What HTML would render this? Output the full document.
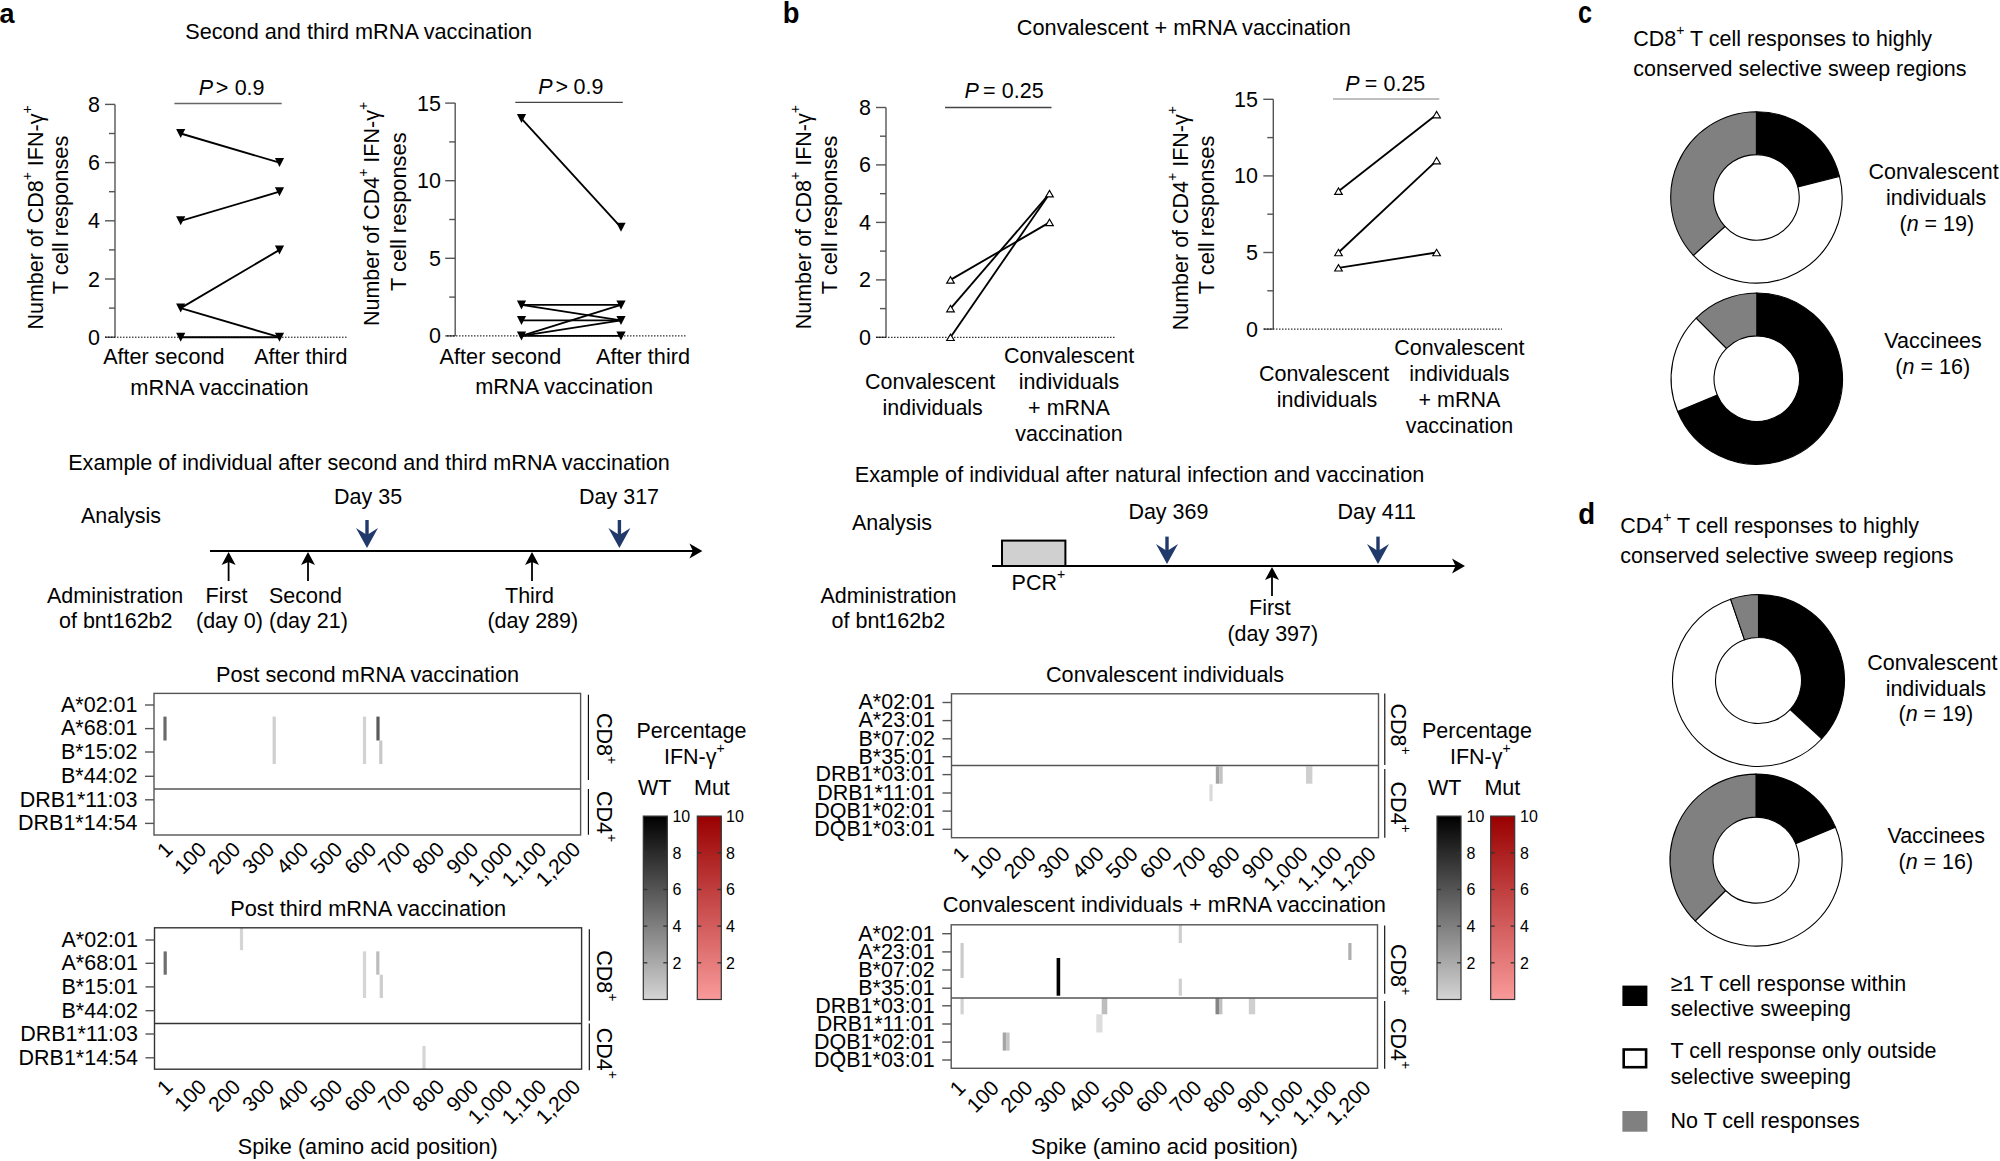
<!DOCTYPE html>
<html><head><meta charset="utf-8"><style>
html,body{margin:0;padding:0;background:#fff;width:2000px;height:1161px;overflow:hidden;}
svg{display:block;font-family:"Liberation Sans",sans-serif;}
</style></head><body>
<svg width="2000" height="1161" viewBox="0 0 2000 1161">
<defs>
<linearGradient id="gWT" x1="0" y1="0" x2="0" y2="1"><stop offset="0" stop-color="#000"/><stop offset="1" stop-color="#d4d4d4"/></linearGradient>
<linearGradient id="gMut" x1="0" y1="0" x2="0" y2="1"><stop offset="0" stop-color="#990000"/><stop offset="1" stop-color="#f99a9a"/></linearGradient>
</defs>
<rect width="2000" height="1161" fill="#fff"/>
<text transform="translate(-0.5,23) scale(0.9,0.93)" font-size="30" font-weight="bold">a</text>
<text transform="translate(782.8,23.4) scale(0.91,0.99)" font-size="30" font-weight="bold">b</text>
<text transform="translate(1578,23) scale(0.84,1.02)" font-size="30" font-weight="bold">c</text>
<text transform="translate(1578.2,524.2) scale(0.92,0.99)" font-size="30" font-weight="bold">d</text>
<text transform="translate(185.2,39.3) scale(1,1.04)" font-size="21.5" text-anchor="start"  textLength="346.9" lengthAdjust="spacingAndGlyphs">Second and third mRNA vaccination</text>
<line x1="115" y1="104.4" x2="115" y2="337.2" stroke="#555" stroke-width="1.4"/>
<line x1="105" y1="337.2" x2="115" y2="337.2" stroke="#555" stroke-width="1.4"/>
<line x1="105" y1="279.0" x2="115" y2="279.0" stroke="#555" stroke-width="1.4"/>
<line x1="105" y1="220.8" x2="115" y2="220.8" stroke="#555" stroke-width="1.4"/>
<line x1="105" y1="162.6" x2="115" y2="162.6" stroke="#555" stroke-width="1.4"/>
<line x1="105" y1="104.4" x2="115" y2="104.4" stroke="#555" stroke-width="1.4"/>
<line x1="109" y1="308.1" x2="115" y2="308.1" stroke="#555" stroke-width="1.4"/>
<line x1="109" y1="249.9" x2="115" y2="249.9" stroke="#555" stroke-width="1.4"/>
<line x1="109" y1="191.7" x2="115" y2="191.7" stroke="#555" stroke-width="1.4"/>
<line x1="109" y1="133.5" x2="115" y2="133.5" stroke="#555" stroke-width="1.4"/>
<text transform="translate(100.0,344.7) scale(1,1.04)" font-size="21.5" text-anchor="end" >0</text>
<text transform="translate(100.0,286.5) scale(1,1.04)" font-size="21.5" text-anchor="end" >2</text>
<text transform="translate(100.0,228.3) scale(1,1.04)" font-size="21.5" text-anchor="end" >4</text>
<text transform="translate(100.0,170.1) scale(1,1.04)" font-size="21.5" text-anchor="end" >6</text>
<text transform="translate(100.0,111.9) scale(1,1.04)" font-size="21.5" text-anchor="end" >8</text>
<line x1="105" y1="337.2" x2="347" y2="337.2" stroke="#000" stroke-width="1" stroke-dasharray="1.5,1.5"/>
<line x1="180.7" y1="133.5" x2="279.5" y2="162.6" stroke="#000" stroke-width="1.85"/>
<line x1="180.7" y1="220.8" x2="279.5" y2="191.7" stroke="#000" stroke-width="1.85"/>
<line x1="180.7" y1="308.1" x2="279.5" y2="249.9" stroke="#000" stroke-width="1.85"/>
<line x1="180.7" y1="308.1" x2="279.5" y2="337.2" stroke="#000" stroke-width="1.85"/>
<line x1="180.7" y1="337.2" x2="279.5" y2="337.2" stroke="#000" stroke-width="1.85"/>
<path d="M176.1,216.3L185.3,216.3L180.7,225.3Z" fill="#000"/>
<path d="M176.1,303.6L185.3,303.6L180.7,312.6Z" fill="#000"/>
<path d="M176.1,129.0L185.3,129.0L180.7,138.0Z" fill="#000"/>
<path d="M274.9,245.4L284.1,245.4L279.5,254.4Z" fill="#000"/>
<path d="M274.9,158.1L284.1,158.1L279.5,167.1Z" fill="#000"/>
<path d="M176.1,332.7L185.3,332.7L180.7,341.7Z" fill="#000"/>
<path d="M274.9,187.2L284.1,187.2L279.5,196.2Z" fill="#000"/>
<path d="M274.9,332.7L284.1,332.7L279.5,341.7Z" fill="#000"/>
<text transform="translate(42.6,217.5) rotate(-90) scale(1,1.04)" font-size="21.5" text-anchor="middle">Number of CD8<tspan font-size="14" dy="-10.5">+</tspan><tspan dy="10.5">​</tspan> IFN-γ<tspan font-size="14" dy="-10.5">+</tspan><tspan dy="10.5">​</tspan></text>
<text transform="translate(68.4,214.9) rotate(-90) scale(1,1.04)" font-size="21.5" text-anchor="middle" textLength="158.5" lengthAdjust="spacingAndGlyphs">T cell responses</text>
<text transform="translate(198.83,95) scale(1,1.05)" font-size="21.5" font-style="italic">P</text>
<text transform="translate(215.65,95) scale(1,1.05)" font-size="21.5">&gt;</text>
<text transform="translate(234.66,95) scale(1,1.05)" font-size="21.5">0.9</text>
<line x1="174.4" y1="103.5" x2="281.7" y2="103.5" stroke="#666" stroke-width="1.5"/>
<text transform="translate(103.2,364.0) scale(1,1.04)" font-size="21.5" text-anchor="start"  textLength="121.2" lengthAdjust="spacingAndGlyphs">After second</text>
<text transform="translate(254.2,364.0) scale(1,1.04)" font-size="21.5" text-anchor="start"  textLength="93.2" lengthAdjust="spacingAndGlyphs">After third</text>
<text transform="translate(130.2,395.0) scale(1,1.04)" font-size="21.5" text-anchor="start"  textLength="178.4" lengthAdjust="spacingAndGlyphs">mRNA vaccination</text>
<line x1="455.2" y1="103.1" x2="455.2" y2="335.9" stroke="#555" stroke-width="1.4"/>
<line x1="445.2" y1="335.9" x2="455.2" y2="335.9" stroke="#555" stroke-width="1.4"/>
<line x1="445.2" y1="258.3" x2="455.2" y2="258.3" stroke="#555" stroke-width="1.4"/>
<line x1="445.2" y1="180.7" x2="455.2" y2="180.7" stroke="#555" stroke-width="1.4"/>
<line x1="445.2" y1="103.1" x2="455.2" y2="103.1" stroke="#555" stroke-width="1.4"/>
<line x1="449.2" y1="297.1" x2="455.2" y2="297.1" stroke="#555" stroke-width="1.4"/>
<line x1="449.2" y1="219.5" x2="455.2" y2="219.5" stroke="#555" stroke-width="1.4"/>
<line x1="449.2" y1="141.9" x2="455.2" y2="141.9" stroke="#555" stroke-width="1.4"/>
<text transform="translate(441.0,343.4) scale(1,1.04)" font-size="21.5" text-anchor="end" >0</text>
<text transform="translate(441.0,265.8) scale(1,1.04)" font-size="21.5" text-anchor="end" >5</text>
<text transform="translate(441.0,188.2) scale(1,1.04)" font-size="21.5" text-anchor="end" >10</text>
<text transform="translate(441.0,110.6) scale(1,1.04)" font-size="21.5" text-anchor="end" >15</text>
<line x1="447" y1="335.9" x2="687" y2="335.9" stroke="#000" stroke-width="1" stroke-dasharray="1.5,1.5"/>
<line x1="521.5" y1="118.6" x2="621" y2="227.3" stroke="#000" stroke-width="1.85"/>
<line x1="521.5" y1="304.9" x2="621" y2="304.9" stroke="#000" stroke-width="1.85"/>
<line x1="521.5" y1="304.9" x2="621" y2="320.4" stroke="#000" stroke-width="1.85"/>
<line x1="521.5" y1="320.4" x2="621" y2="320.4" stroke="#000" stroke-width="1.85"/>
<line x1="521.5" y1="335.9" x2="621" y2="304.9" stroke="#000" stroke-width="1.85"/>
<line x1="521.5" y1="335.9" x2="621" y2="320.4" stroke="#000" stroke-width="1.85"/>
<line x1="521.5" y1="335.9" x2="621" y2="335.9" stroke="#000" stroke-width="1.85"/>
<path d="M516.9,331.4L526.1,331.4L521.5,340.4Z" fill="#000"/>
<path d="M616.4,222.8L625.6,222.8L621.0,231.8Z" fill="#000"/>
<path d="M516.9,300.4L526.1,300.4L521.5,309.4Z" fill="#000"/>
<path d="M616.4,331.4L625.6,331.4L621.0,340.4Z" fill="#000"/>
<path d="M516.9,114.1L526.1,114.1L521.5,123.1Z" fill="#000"/>
<path d="M616.4,300.4L625.6,300.4L621.0,309.4Z" fill="#000"/>
<path d="M516.9,315.9L526.1,315.9L521.5,324.9Z" fill="#000"/>
<path d="M616.4,315.9L625.6,315.9L621.0,324.9Z" fill="#000"/>
<text transform="translate(378.5,214) rotate(-90) scale(1,1.04)" font-size="21.5" text-anchor="middle">Number of CD4<tspan font-size="14" dy="-10.5">+</tspan><tspan dy="10.5">​</tspan> IFN-γ<tspan font-size="14" dy="-10.5">+</tspan><tspan dy="10.5">​</tspan></text>
<text transform="translate(405.5,211.7) rotate(-90) scale(1,1.04)" font-size="21.5" text-anchor="middle" textLength="158.5" lengthAdjust="spacingAndGlyphs">T cell responses</text>
<text transform="translate(538.33,93.9) scale(1,1.05)" font-size="21.5" font-style="italic">P</text>
<text transform="translate(555.45,93.9) scale(1,1.05)" font-size="21.5">&gt;</text>
<text transform="translate(573.56,93.9) scale(1,1.05)" font-size="21.5">0.9</text>
<line x1="515.3" y1="102.4" x2="622.8" y2="102.4" stroke="#444" stroke-width="1.3"/>
<text transform="translate(439.6,363.5) scale(1,1.04)" font-size="21.5" text-anchor="start"  textLength="121.6" lengthAdjust="spacingAndGlyphs">After second</text>
<text transform="translate(596.0,363.5) scale(1,1.04)" font-size="21.5" text-anchor="start"  textLength="94.0" lengthAdjust="spacingAndGlyphs">After third</text>
<text transform="translate(475.2,394.2) scale(1,1.04)" font-size="21.5" text-anchor="start"  textLength="177.8" lengthAdjust="spacingAndGlyphs">mRNA vaccination</text>
<text transform="translate(1016.8,35.0) scale(1,1.04)" font-size="21.5" text-anchor="start"  textLength="334.0" lengthAdjust="spacingAndGlyphs">Convalescent + mRNA vaccination</text>
<line x1="886" y1="107.5" x2="886" y2="337.3" stroke="#555" stroke-width="1.4"/>
<line x1="876" y1="337.3" x2="886" y2="337.3" stroke="#555" stroke-width="1.4"/>
<line x1="876" y1="279.9" x2="886" y2="279.9" stroke="#555" stroke-width="1.4"/>
<line x1="876" y1="222.4" x2="886" y2="222.4" stroke="#555" stroke-width="1.4"/>
<line x1="876" y1="164.9" x2="886" y2="164.9" stroke="#555" stroke-width="1.4"/>
<line x1="876" y1="107.5" x2="886" y2="107.5" stroke="#555" stroke-width="1.4"/>
<line x1="880" y1="308.6" x2="886" y2="308.6" stroke="#555" stroke-width="1.4"/>
<line x1="880" y1="251.1" x2="886" y2="251.1" stroke="#555" stroke-width="1.4"/>
<line x1="880" y1="193.7" x2="886" y2="193.7" stroke="#555" stroke-width="1.4"/>
<line x1="880" y1="136.2" x2="886" y2="136.2" stroke="#555" stroke-width="1.4"/>
<text transform="translate(871.0,344.8) scale(1,1.04)" font-size="21.5" text-anchor="end" >0</text>
<text transform="translate(871.0,287.4) scale(1,1.04)" font-size="21.5" text-anchor="end" >2</text>
<text transform="translate(871.0,229.9) scale(1,1.04)" font-size="21.5" text-anchor="end" >4</text>
<text transform="translate(871.0,172.4) scale(1,1.04)" font-size="21.5" text-anchor="end" >6</text>
<text transform="translate(871.0,115.0) scale(1,1.04)" font-size="21.5" text-anchor="end" >8</text>
<line x1="876" y1="337.3" x2="1115" y2="337.3" stroke="#000" stroke-width="1" stroke-dasharray="1.5,1.5"/>
<line x1="950.5" y1="279.9" x2="1049.5" y2="222.4" stroke="#000" stroke-width="1.85"/>
<line x1="950.5" y1="308.6" x2="1049.5" y2="193.7" stroke="#000" stroke-width="1.85"/>
<line x1="950.5" y1="337.3" x2="1049.5" y2="193.7" stroke="#000" stroke-width="1.85"/>
<path d="M1045.7,225.6L1053.3,225.6L1049.5,219.2Z" fill="#fff" stroke="#000" stroke-width="1.15"/>
<path d="M946.7,340.5L954.3,340.5L950.5,334.1Z" fill="#fff" stroke="#000" stroke-width="1.15"/>
<path d="M946.7,283.1L954.3,283.1L950.5,276.7Z" fill="#fff" stroke="#000" stroke-width="1.15"/>
<path d="M1045.7,196.9L1053.3,196.9L1049.5,190.5Z" fill="#fff" stroke="#000" stroke-width="1.15"/>
<path d="M946.7,311.8L954.3,311.8L950.5,305.4Z" fill="#fff" stroke="#000" stroke-width="1.15"/>
<text transform="translate(811,217.2) rotate(-90) scale(1,1.04)" font-size="21.5" text-anchor="middle">Number of CD8<tspan font-size="14" dy="-10.5">+</tspan><tspan dy="10.5">​</tspan> IFN-γ<tspan font-size="14" dy="-10.5">+</tspan><tspan dy="10.5">​</tspan></text>
<text transform="translate(836.8,214.9) rotate(-90) scale(1,1.04)" font-size="21.5" text-anchor="middle" textLength="158.5" lengthAdjust="spacingAndGlyphs">T cell responses</text>
<text transform="translate(964.53,98.2) scale(1,1.05)" font-size="21.5" font-style="italic">P</text>
<text transform="translate(983.05,98.2) scale(1,1.05)" font-size="21.5">=</text>
<text transform="translate(1001.86,98.2) scale(1,1.05)" font-size="21.5">0.25</text>
<line x1="945" y1="107.5" x2="1051.5" y2="107.5" stroke="#444" stroke-width="1.3"/>
<text transform="translate(930.1,389.0) scale(1,1.04)" font-size="21.5" text-anchor="middle" >Convalescent</text>
<text transform="translate(932.7,415.0) scale(1,1.04)" font-size="21.5" text-anchor="middle" >individuals</text>
<text transform="translate(1069.0,363.0) scale(1,1.04)" font-size="21.5" text-anchor="middle" >Convalescent</text>
<text transform="translate(1069.0,389.0) scale(1,1.04)" font-size="21.5" text-anchor="middle" >individuals</text>
<text transform="translate(1069.0,415.0) scale(1,1.04)" font-size="21.5" text-anchor="middle" >+ mRNA</text>
<text transform="translate(1069.0,441.0) scale(1,1.04)" font-size="21.5" text-anchor="middle" >vaccination</text>
<line x1="1273.3" y1="99.3" x2="1273.3" y2="329.1" stroke="#555" stroke-width="1.4"/>
<line x1="1263.3" y1="329.1" x2="1273.3" y2="329.1" stroke="#555" stroke-width="1.4"/>
<line x1="1263.3" y1="252.5" x2="1273.3" y2="252.5" stroke="#555" stroke-width="1.4"/>
<line x1="1263.3" y1="175.9" x2="1273.3" y2="175.9" stroke="#555" stroke-width="1.4"/>
<line x1="1263.3" y1="99.3" x2="1273.3" y2="99.3" stroke="#555" stroke-width="1.4"/>
<line x1="1267.3" y1="290.8" x2="1273.3" y2="290.8" stroke="#555" stroke-width="1.4"/>
<line x1="1267.3" y1="214.2" x2="1273.3" y2="214.2" stroke="#555" stroke-width="1.4"/>
<line x1="1267.3" y1="137.6" x2="1273.3" y2="137.6" stroke="#555" stroke-width="1.4"/>
<text transform="translate(1258.0,336.6) scale(1,1.04)" font-size="21.5" text-anchor="end" >0</text>
<text transform="translate(1258.0,260.0) scale(1,1.04)" font-size="21.5" text-anchor="end" >5</text>
<text transform="translate(1258.0,183.4) scale(1,1.04)" font-size="21.5" text-anchor="end" >10</text>
<text transform="translate(1258.0,106.8) scale(1,1.04)" font-size="21.5" text-anchor="end" >15</text>
<line x1="1264" y1="329.1" x2="1502" y2="329.1" stroke="#000" stroke-width="1" stroke-dasharray="1.5,1.5"/>
<line x1="1338.5" y1="191.2" x2="1436.6" y2="114.6" stroke="#000" stroke-width="1.85"/>
<line x1="1338.5" y1="252.5" x2="1436.6" y2="160.6" stroke="#000" stroke-width="1.85"/>
<line x1="1338.5" y1="267.8" x2="1436.6" y2="252.5" stroke="#000" stroke-width="1.85"/>
<path d="M1432.8,255.7L1440.4,255.7L1436.6,249.3Z" fill="#fff" stroke="#000" stroke-width="1.15"/>
<path d="M1334.7,194.4L1342.3,194.4L1338.5,188.0Z" fill="#fff" stroke="#000" stroke-width="1.15"/>
<path d="M1432.8,163.8L1440.4,163.8L1436.6,157.4Z" fill="#fff" stroke="#000" stroke-width="1.15"/>
<path d="M1432.8,117.8L1440.4,117.8L1436.6,111.4Z" fill="#fff" stroke="#000" stroke-width="1.15"/>
<path d="M1334.7,255.7L1342.3,255.7L1338.5,249.3Z" fill="#fff" stroke="#000" stroke-width="1.15"/>
<path d="M1334.7,271.0L1342.3,271.0L1338.5,264.6Z" fill="#fff" stroke="#000" stroke-width="1.15"/>
<text transform="translate(1187.9,218.2) rotate(-90) scale(1,1.04)" font-size="21.5" text-anchor="middle">Number of CD4<tspan font-size="14" dy="-10.5">+</tspan><tspan dy="10.5">​</tspan> IFN-γ<tspan font-size="14" dy="-10.5">+</tspan><tspan dy="10.5">​</tspan></text>
<text transform="translate(1213.7,214.9) rotate(-90) scale(1,1.04)" font-size="21.5" text-anchor="middle" textLength="158.5" lengthAdjust="spacingAndGlyphs">T cell responses</text>
<text transform="translate(1345.33,90.55) scale(1,1.05)" font-size="21.5" font-style="italic">P</text>
<text transform="translate(1364.75,90.55) scale(1,1.05)" font-size="21.5">=</text>
<text transform="translate(1383.46,90.55) scale(1,1.05)" font-size="21.5">0.25</text>
<line x1="1333" y1="99" x2="1439.3" y2="99" stroke="#aaa" stroke-width="1.7"/>
<text transform="translate(1324.0,380.7) scale(1,1.04)" font-size="21.5" text-anchor="middle" >Convalescent</text>
<text transform="translate(1327.0,406.6) scale(1,1.04)" font-size="21.5" text-anchor="middle" >individuals</text>
<text transform="translate(1459.4,355.0) scale(1,1.04)" font-size="21.5" text-anchor="middle" >Convalescent</text>
<text transform="translate(1459.4,381.0) scale(1,1.04)" font-size="21.5" text-anchor="middle" >individuals</text>
<text transform="translate(1459.4,407.0) scale(1,1.04)" font-size="21.5" text-anchor="middle" >+ mRNA</text>
<text transform="translate(1459.4,433.0) scale(1,1.04)" font-size="21.5" text-anchor="middle" >vaccination</text>
<text transform="translate(1633.3,45.5) scale(1,1.04)" font-size="21.5" text-anchor="start" >CD8<tspan font-size="14" dy="-10.5">+</tspan><tspan dy="10.5">​</tspan> T cell responses to highly</text>
<text transform="translate(1633.3,76.4) scale(1,1.04)" font-size="21.5" text-anchor="start" >conserved selective sweep regions</text>
<path d="M1756.40,111.70A85.7,85.7 0 0 1 1839.48,176.36L1797.89,186.89A42.8,42.8 0 0 0 1756.40,154.60Z" fill="#000" stroke="#000" stroke-width="1.1"/>
<path d="M1839.48,176.36A85.7,85.7 0 0 1 1693.35,255.44L1724.91,226.39A42.8,42.8 0 0 0 1797.89,186.89Z" fill="#fff" stroke="#000" stroke-width="1.1"/>
<path d="M1693.35,255.44A85.7,85.7 0 0 1 1756.40,111.70L1756.40,154.60A42.8,42.8 0 0 0 1724.91,226.39Z" fill="#808080" stroke="#000" stroke-width="1.1"/>
<path d="M1756.80,293.00A85.7,85.7 0 1 1 1677.62,411.50L1717.26,395.08A42.8,42.8 0 1 0 1756.80,335.90Z" fill="#000" stroke="#000" stroke-width="1.1"/>
<path d="M1677.62,411.50A85.7,85.7 0 0 1 1696.20,318.10L1726.54,348.44A42.8,42.8 0 0 0 1717.26,395.08Z" fill="#fff" stroke="#000" stroke-width="1.1"/>
<path d="M1696.20,318.10A85.7,85.7 0 0 1 1756.80,293.00L1756.80,335.90A42.8,42.8 0 0 0 1726.54,348.44Z" fill="#808080" stroke="#000" stroke-width="1.1"/>
<text transform="translate(1933.5,179.0) scale(1,1.04)" font-size="21.5" text-anchor="middle" >Convalescent</text>
<text transform="translate(1936.2,204.9) scale(1,1.04)" font-size="21.5" text-anchor="middle" >individuals</text>
<text transform="translate(1936.8,230.8) scale(1,1.04)" font-size="21.5" text-anchor="middle" >(<tspan font-style="italic">n</tspan> = 19)</text>
<text transform="translate(1933.0,347.7) scale(1,1.04)" font-size="21.5" text-anchor="middle" >Vaccinees</text>
<text transform="translate(1932.7,373.5) scale(1,1.04)" font-size="21.5" text-anchor="middle" >(<tspan font-style="italic">n</tspan> = 16)</text>
<text transform="translate(1620.3,533.2) scale(1,1.04)" font-size="21.5" text-anchor="start" >CD4<tspan font-size="14" dy="-10.5">+</tspan><tspan dy="10.5">​</tspan> T cell responses to highly</text>
<text transform="translate(1620.3,563.4) scale(1,1.04)" font-size="21.5" text-anchor="start" >conserved selective sweep regions</text>
<path d="M1758.50,594.50A86,86 0 0 1 1821.77,738.75L1790.14,709.62A43,43 0 0 0 1758.50,637.50Z" fill="#000" stroke="#000" stroke-width="1.1"/>
<path d="M1821.77,738.75A86,86 0 1 1 1730.58,599.16L1744.54,639.83A43,43 0 1 0 1790.14,709.62Z" fill="#fff" stroke="#000" stroke-width="1.1"/>
<path d="M1730.58,599.16A86,86 0 0 1 1758.50,594.50L1758.50,637.50A43,43 0 0 0 1744.54,639.83Z" fill="#808080" stroke="#000" stroke-width="1.1"/>
<path d="M1756.00,774.10A86,86 0 0 1 1835.45,827.19L1795.73,843.64A43,43 0 0 0 1756.00,817.10Z" fill="#000" stroke="#000" stroke-width="1.1"/>
<path d="M1835.45,827.19A86,86 0 0 1 1695.19,920.91L1725.59,890.51A43,43 0 0 0 1795.73,843.64Z" fill="#fff" stroke="#000" stroke-width="1.1"/>
<path d="M1695.19,920.91A86,86 0 0 1 1756.00,774.10L1756.00,817.10A43,43 0 0 0 1725.59,890.51Z" fill="#808080" stroke="#000" stroke-width="1.1"/>
<text transform="translate(1932.3,669.7) scale(1,1.04)" font-size="21.5" text-anchor="middle" >Convalescent</text>
<text transform="translate(1935.8,695.6) scale(1,1.04)" font-size="21.5" text-anchor="middle" >individuals</text>
<text transform="translate(1935.8,721.4) scale(1,1.04)" font-size="21.5" text-anchor="middle" >(<tspan font-style="italic">n</tspan> = 19)</text>
<text transform="translate(1936.2,843.3) scale(1,1.04)" font-size="21.5" text-anchor="middle" >Vaccinees</text>
<text transform="translate(1935.8,869.0) scale(1,1.04)" font-size="21.5" text-anchor="middle" >(<tspan font-style="italic">n</tspan> = 16)</text>
<rect x="1622.4" y="985.6" width="25" height="20.4" fill="#000"/>
<rect x="1623.7" y="1049.5" width="22.4" height="17.7" fill="#fff" stroke="#000" stroke-width="2.6"/>
<rect x="1622.4" y="1111" width="25" height="20.7" fill="#808080"/>
<text transform="translate(1670.6,991.3) scale(1,1.04)" font-size="21.5" text-anchor="start" >≥1 T cell response within</text>
<text transform="translate(1670.6,1016.3) scale(1,1.04)" font-size="21.5" text-anchor="start" >selective sweeping</text>
<text transform="translate(1670.6,1058.1) scale(1,1.04)" font-size="21.5" text-anchor="start" >T cell response only outside</text>
<text transform="translate(1670.6,1083.5) scale(1,1.04)" font-size="21.5" text-anchor="start" >selective sweeping</text>
<text transform="translate(1670.6,1128.2) scale(1,1.04)" font-size="21.5" text-anchor="start" >No T cell responses</text>
<text transform="translate(68.2,470.0) scale(1,1.04)" font-size="21.5" text-anchor="start"  textLength="601.6" lengthAdjust="spacingAndGlyphs">Example of individual after second and third mRNA vaccination</text>
<text transform="translate(81.0,523.0) scale(1,1.04)" font-size="21.5" text-anchor="start" >Analysis</text>
<text transform="translate(334.0,503.6) scale(1,1.04)" font-size="21.5" text-anchor="start" >Day 35</text>
<text transform="translate(579.0,503.6) scale(1,1.04)" font-size="21.5" text-anchor="start" >Day 317</text>
<line x1="210" y1="551" x2="694.4" y2="551" stroke="#000" stroke-width="2.2"/>
<path d="M702.4,551L689.4,543.6L692.9,551L689.4,558.4Z" fill="#000"/>
<rect x="365.3" y="520" width="3.4" height="20" fill="#213a6b"/>
<path d="M367,548L356,528L367,535L378,528Z" fill="#213a6b"/>
<rect x="617.6999999999999" y="520" width="3.4" height="20" fill="#213a6b"/>
<path d="M619.4,548L608.4,528L619.4,535L630.4,528Z" fill="#213a6b"/>
<line x1="228.6" y1="560" x2="228.6" y2="581" stroke="#000" stroke-width="1.8"/>
<path d="M228.6,552L235.6,565L228.6,562L221.6,565Z" fill="#000"/>
<line x1="308" y1="560" x2="308" y2="581" stroke="#000" stroke-width="1.8"/>
<path d="M308,552L315,565L308,562L301,565Z" fill="#000"/>
<line x1="532" y1="560" x2="532" y2="581" stroke="#000" stroke-width="1.8"/>
<path d="M532,552L539,565L532,562L525,565Z" fill="#000"/>
<text transform="translate(47.0,603.0) scale(1,1.04)" font-size="21.5" text-anchor="start" >Administration</text>
<text transform="translate(59.0,628.0) scale(1,1.04)" font-size="21.5" text-anchor="start" >of bnt162b2</text>
<text transform="translate(205.6,603.0) scale(1,1.04)" font-size="21.5" text-anchor="start" >First</text>
<text transform="translate(196.0,628.0) scale(1,1.04)" font-size="21.5" text-anchor="start" >(day 0)</text>
<text transform="translate(269.0,603.0) scale(1,1.04)" font-size="21.5" text-anchor="start" >Second</text>
<text transform="translate(269.0,628.0) scale(1,1.04)" font-size="21.5" text-anchor="start" >(day 21)</text>
<text transform="translate(505.0,603.0) scale(1,1.04)" font-size="21.5" text-anchor="start" >Third</text>
<text transform="translate(487.4,628.0) scale(1,1.04)" font-size="21.5" text-anchor="start" >(day 289)</text>
<text transform="translate(854.8,481.6) scale(1,1.04)" font-size="21.5" text-anchor="start"  textLength="569.6" lengthAdjust="spacingAndGlyphs">Example of individual after natural infection and vaccination</text>
<text transform="translate(852.0,529.6) scale(1,1.04)" font-size="21.5" text-anchor="start" >Analysis</text>
<text transform="translate(1128.4,519.0) scale(1,1.04)" font-size="21.5" text-anchor="start" >Day 369</text>
<text transform="translate(1337.6,519.0) scale(1,1.04)" font-size="21.5" text-anchor="start" >Day 411</text>
<rect x="1002" y="540.6" width="63.4" height="25.4" fill="#d0d0d0" stroke="#000" stroke-width="2"/>
<line x1="992" y1="566" x2="1457" y2="566" stroke="#000" stroke-width="2.2"/>
<path d="M1465,566L1452,558.6L1455.5,566L1452,573.4Z" fill="#000"/>
<rect x="1165.3" y="536.6" width="3.4" height="19.399999999999977" fill="#213a6b"/>
<path d="M1167,564L1156,544L1167,551L1178,544Z" fill="#213a6b"/>
<rect x="1376.3" y="536.6" width="3.4" height="19.399999999999977" fill="#213a6b"/>
<path d="M1378,564L1367,544L1378,551L1389,544Z" fill="#213a6b"/>
<line x1="1272" y1="575" x2="1272" y2="596" stroke="#000" stroke-width="1.8"/>
<path d="M1272,567L1279,580L1272,577L1265,580Z" fill="#000"/>
<text transform="translate(1011.6,590.4) scale(1,1.04)" font-size="21.5" text-anchor="start" >PCR<tspan font-size="14" dy="-10.5">+</tspan><tspan dy="10.5">​</tspan></text>
<text transform="translate(820.4,603.0) scale(1,1.04)" font-size="21.5" text-anchor="start" >Administration</text>
<text transform="translate(831.6,628.0) scale(1,1.04)" font-size="21.5" text-anchor="start" >of bnt162b2</text>
<text transform="translate(1249.0,615.0) scale(1,1.04)" font-size="21.5" text-anchor="start" >First</text>
<text transform="translate(1227.4,641.0) scale(1,1.04)" font-size="21.5" text-anchor="start" >(day 397)</text>
<text transform="translate(216.0,682.4) scale(1,1.04)" font-size="21.5" text-anchor="start"  textLength="303.1" lengthAdjust="spacingAndGlyphs">Post second mRNA vaccination</text>
<rect x="163.40" y="716.6" width="3.2" height="23.90" fill="#6a6a6a"/>
<rect x="272.60" y="716.6" width="3.2" height="47.40" fill="#cfcfcf"/>
<rect x="362.90" y="716.6" width="3.2" height="47.40" fill="#d2d2d2"/>
<rect x="376.40" y="716.6" width="3.2" height="23.90" fill="#5a5a5a"/>
<rect x="379.20" y="740.5" width="3.2" height="23.50" fill="#c8c8c8"/>
<rect x="154" y="693.4" width="426.6" height="141.6" fill="none" stroke="#555" stroke-width="1.4"/>
<line x1="154" y1="789" x2="580.6" y2="789" stroke="#555" stroke-width="1.4"/>
<line x1="145" y1="705" x2="154" y2="705" stroke="#555" stroke-width="1.4"/>
<text transform="translate(137.5,711.8) scale(1,1.04)" font-size="21.5" text-anchor="end" >A*02:01</text>
<line x1="145" y1="728.6" x2="154" y2="728.6" stroke="#555" stroke-width="1.4"/>
<text transform="translate(137.5,735.4) scale(1,1.04)" font-size="21.5" text-anchor="end" >A*68:01</text>
<line x1="145" y1="752" x2="154" y2="752" stroke="#555" stroke-width="1.4"/>
<text transform="translate(137.5,758.8) scale(1,1.04)" font-size="21.5" text-anchor="end" >B*15:02</text>
<line x1="145" y1="776.3" x2="154" y2="776.3" stroke="#555" stroke-width="1.4"/>
<text transform="translate(137.5,783.1) scale(1,1.04)" font-size="21.5" text-anchor="end" >B*44:02</text>
<line x1="145" y1="799.8" x2="154" y2="799.8" stroke="#555" stroke-width="1.4"/>
<text transform="translate(137.5,806.6) scale(1,1.04)" font-size="21.5" text-anchor="end" >DRB1*11:03</text>
<line x1="145" y1="823.4" x2="154" y2="823.4" stroke="#555" stroke-width="1.4"/>
<text transform="translate(137.5,830.2) scale(1,1.04)" font-size="21.5" text-anchor="end" >DRB1*14:54</text>
<text transform="translate(174.0,850.8) rotate(-45) scale(1,1.0)" font-size="21" text-anchor="end">1</text>
<text transform="translate(207.7,850.8) rotate(-45) scale(1,1.0)" font-size="21" text-anchor="end">100</text>
<text transform="translate(241.7,850.8) rotate(-45) scale(1,1.0)" font-size="21" text-anchor="end">200</text>
<text transform="translate(275.7,850.8) rotate(-45) scale(1,1.0)" font-size="21" text-anchor="end">300</text>
<text transform="translate(309.7,850.8) rotate(-45) scale(1,1.0)" font-size="21" text-anchor="end">400</text>
<text transform="translate(343.7,850.8) rotate(-45) scale(1,1.0)" font-size="21" text-anchor="end">500</text>
<text transform="translate(377.7,850.8) rotate(-45) scale(1,1.0)" font-size="21" text-anchor="end">600</text>
<text transform="translate(411.7,850.8) rotate(-45) scale(1,1.0)" font-size="21" text-anchor="end">700</text>
<text transform="translate(445.7,850.8) rotate(-45) scale(1,1.0)" font-size="21" text-anchor="end">800</text>
<text transform="translate(479.7,850.8) rotate(-45) scale(1,1.0)" font-size="21" text-anchor="end">900</text>
<text transform="translate(513.7,850.8) rotate(-45) scale(1,1.0)" font-size="21" text-anchor="end">1,000</text>
<text transform="translate(547.7,850.8) rotate(-45) scale(1,1.0)" font-size="21" text-anchor="end">1,100</text>
<text transform="translate(581.7,850.8) rotate(-45) scale(1,1.0)" font-size="21" text-anchor="end">1,200</text>
<line x1="588.4" y1="694.7" x2="588.4" y2="780" stroke="#000" stroke-width="1.1"/>
<line x1="588.4" y1="789" x2="588.4" y2="834.8" stroke="#000" stroke-width="1.1"/>
<text transform="translate(596.5,713) rotate(90) scale(1,1.04)" font-size="21.5">CD8<tspan font-size="14" dy="-10.5">+</tspan><tspan dy="10.5">​</tspan></text>
<text transform="translate(596.5,791) rotate(90) scale(1,1.04)" font-size="21.5">CD4<tspan font-size="14" dy="-10.5">+</tspan><tspan dy="10.5">​</tspan></text>
<text transform="translate(230.2,916.0) scale(1,1.04)" font-size="21.5" text-anchor="start"  textLength="275.9" lengthAdjust="spacingAndGlyphs">Post third mRNA vaccination</text>
<rect x="239.90" y="927.8" width="3.2" height="22.40" fill="#d5d5d5"/>
<rect x="163.60" y="951.4" width="3.2" height="23.30" fill="#6e6e6e"/>
<rect x="362.90" y="951.4" width="3.2" height="46.60" fill="#d5d5d5"/>
<rect x="376.20" y="951.4" width="3.2" height="23.30" fill="#bdbdbd"/>
<rect x="379.70" y="974.7" width="3.2" height="23.30" fill="#cdcdcd"/>
<rect x="422.40" y="1046" width="3.2" height="23.20" fill="#d5d5d5"/>
<rect x="154.5" y="927.8" width="427.1" height="141.4" fill="none" stroke="#333" stroke-width="1.4"/>
<line x1="154.5" y1="1023.5" x2="581.6" y2="1023.5" stroke="#333" stroke-width="1.4"/>
<line x1="145.5" y1="940" x2="154.5" y2="940" stroke="#555" stroke-width="1.4"/>
<text transform="translate(138.0,946.8) scale(1,1.04)" font-size="21.5" text-anchor="end" >A*02:01</text>
<line x1="145.5" y1="963.3" x2="154.5" y2="963.3" stroke="#555" stroke-width="1.4"/>
<text transform="translate(138.0,970.1) scale(1,1.04)" font-size="21.5" text-anchor="end" >A*68:01</text>
<line x1="145.5" y1="986.9" x2="154.5" y2="986.9" stroke="#555" stroke-width="1.4"/>
<text transform="translate(138.0,993.7) scale(1,1.04)" font-size="21.5" text-anchor="end" >B*15:01</text>
<line x1="145.5" y1="1010.7" x2="154.5" y2="1010.7" stroke="#555" stroke-width="1.4"/>
<text transform="translate(138.0,1017.5) scale(1,1.04)" font-size="21.5" text-anchor="end" >B*44:02</text>
<line x1="145.5" y1="1034" x2="154.5" y2="1034" stroke="#555" stroke-width="1.4"/>
<text transform="translate(138.0,1040.8) scale(1,1.04)" font-size="21.5" text-anchor="end" >DRB1*11:03</text>
<line x1="145.5" y1="1057.8" x2="154.5" y2="1057.8" stroke="#555" stroke-width="1.4"/>
<text transform="translate(138.0,1064.6) scale(1,1.04)" font-size="21.5" text-anchor="end" >DRB1*14:54</text>
<text transform="translate(174.0,1088.3) rotate(-45) scale(1,1.0)" font-size="21" text-anchor="end">1</text>
<text transform="translate(207.7,1088.3) rotate(-45) scale(1,1.0)" font-size="21" text-anchor="end">100</text>
<text transform="translate(241.7,1088.3) rotate(-45) scale(1,1.0)" font-size="21" text-anchor="end">200</text>
<text transform="translate(275.7,1088.3) rotate(-45) scale(1,1.0)" font-size="21" text-anchor="end">300</text>
<text transform="translate(309.7,1088.3) rotate(-45) scale(1,1.0)" font-size="21" text-anchor="end">400</text>
<text transform="translate(343.7,1088.3) rotate(-45) scale(1,1.0)" font-size="21" text-anchor="end">500</text>
<text transform="translate(377.7,1088.3) rotate(-45) scale(1,1.0)" font-size="21" text-anchor="end">600</text>
<text transform="translate(411.7,1088.3) rotate(-45) scale(1,1.0)" font-size="21" text-anchor="end">700</text>
<text transform="translate(445.7,1088.3) rotate(-45) scale(1,1.0)" font-size="21" text-anchor="end">800</text>
<text transform="translate(479.7,1088.3) rotate(-45) scale(1,1.0)" font-size="21" text-anchor="end">900</text>
<text transform="translate(513.7,1088.3) rotate(-45) scale(1,1.0)" font-size="21" text-anchor="end">1,000</text>
<text transform="translate(547.7,1088.3) rotate(-45) scale(1,1.0)" font-size="21" text-anchor="end">1,100</text>
<text transform="translate(581.7,1088.3) rotate(-45) scale(1,1.0)" font-size="21" text-anchor="end">1,200</text>
<line x1="589.3" y1="929.2" x2="589.3" y2="1020.7" stroke="#000" stroke-width="1.1"/>
<line x1="589.3" y1="1023.5" x2="589.3" y2="1070.2" stroke="#000" stroke-width="1.1"/>
<text transform="translate(597,950.2) rotate(90) scale(1,1.04)" font-size="21.5">CD8<tspan font-size="14" dy="-10.5">+</tspan><tspan dy="10.5">​</tspan></text>
<text transform="translate(597,1027.7) rotate(90) scale(1,1.04)" font-size="21.5">CD4<tspan font-size="14" dy="-10.5">+</tspan><tspan dy="10.5">​</tspan></text>
<text transform="translate(237.7,1153.7) scale(1,1.04)" font-size="21.5" text-anchor="start"  textLength="260.1" lengthAdjust="spacingAndGlyphs">Spike (amino acid position)</text>
<text transform="translate(1046.0,682.4) scale(1,1.04)" font-size="21.5" text-anchor="start"  textLength="238.1" lengthAdjust="spacingAndGlyphs">Convalescent individuals</text>
<rect x="1215.80" y="766.4" width="3.6" height="17.30" fill="#a4a4a4"/>
<rect x="1219.30" y="766.4" width="3.4" height="17.30" fill="#c4c4c4"/>
<rect x="1209.40" y="784.3" width="3.2" height="16.90" fill="#dadada"/>
<rect x="1306.00" y="766.4" width="6.4" height="17.30" fill="#cfcfcf"/>
<rect x="951.5" y="693.8" width="427.0" height="143.9" fill="none" stroke="#555" stroke-width="1.4"/>
<line x1="951.5" y1="765.5" x2="1378.5" y2="765.5" stroke="#555" stroke-width="1.4"/>
<line x1="942.5" y1="702.5" x2="951.5" y2="702.5" stroke="#555" stroke-width="1.4"/>
<text transform="translate(935.0,709.3) scale(1,1.04)" font-size="21.5" text-anchor="end" >A*02:01</text>
<line x1="942.5" y1="720.6" x2="951.5" y2="720.6" stroke="#555" stroke-width="1.4"/>
<text transform="translate(935.0,727.4) scale(1,1.04)" font-size="21.5" text-anchor="end" >A*23:01</text>
<line x1="942.5" y1="738.8" x2="951.5" y2="738.8" stroke="#555" stroke-width="1.4"/>
<text transform="translate(935.0,745.6) scale(1,1.04)" font-size="21.5" text-anchor="end" >B*07:02</text>
<line x1="942.5" y1="756.7" x2="951.5" y2="756.7" stroke="#555" stroke-width="1.4"/>
<text transform="translate(935.0,763.5) scale(1,1.04)" font-size="21.5" text-anchor="end" >B*35:01</text>
<line x1="942.5" y1="774.6" x2="951.5" y2="774.6" stroke="#555" stroke-width="1.4"/>
<text transform="translate(935.0,781.4) scale(1,1.04)" font-size="21.5" text-anchor="end" >DRB1*03:01</text>
<line x1="942.5" y1="793" x2="951.5" y2="793" stroke="#555" stroke-width="1.4"/>
<text transform="translate(935.0,799.8) scale(1,1.04)" font-size="21.5" text-anchor="end" >DRB1*11:01</text>
<line x1="942.5" y1="811.1" x2="951.5" y2="811.1" stroke="#555" stroke-width="1.4"/>
<text transform="translate(935.0,817.9) scale(1,1.04)" font-size="21.5" text-anchor="end" >DQB1*02:01</text>
<line x1="942.5" y1="829.3" x2="951.5" y2="829.3" stroke="#555" stroke-width="1.4"/>
<text transform="translate(935.0,836.1) scale(1,1.04)" font-size="21.5" text-anchor="end" >DQB1*03:01</text>
<text transform="translate(969.5,855.3) rotate(-45) scale(1,1.0)" font-size="21" text-anchor="end">1</text>
<text transform="translate(1003.2,855.3) rotate(-45) scale(1,1.0)" font-size="21" text-anchor="end">100</text>
<text transform="translate(1037.2,855.3) rotate(-45) scale(1,1.0)" font-size="21" text-anchor="end">200</text>
<text transform="translate(1071.2,855.3) rotate(-45) scale(1,1.0)" font-size="21" text-anchor="end">300</text>
<text transform="translate(1105.2,855.3) rotate(-45) scale(1,1.0)" font-size="21" text-anchor="end">400</text>
<text transform="translate(1139.2,855.3) rotate(-45) scale(1,1.0)" font-size="21" text-anchor="end">500</text>
<text transform="translate(1173.2,855.3) rotate(-45) scale(1,1.0)" font-size="21" text-anchor="end">600</text>
<text transform="translate(1207.2,855.3) rotate(-45) scale(1,1.0)" font-size="21" text-anchor="end">700</text>
<text transform="translate(1241.2,855.3) rotate(-45) scale(1,1.0)" font-size="21" text-anchor="end">800</text>
<text transform="translate(1275.2,855.3) rotate(-45) scale(1,1.0)" font-size="21" text-anchor="end">900</text>
<text transform="translate(1309.2,855.3) rotate(-45) scale(1,1.0)" font-size="21" text-anchor="end">1,000</text>
<text transform="translate(1343.2,855.3) rotate(-45) scale(1,1.0)" font-size="21" text-anchor="end">1,100</text>
<text transform="translate(1377.2,855.3) rotate(-45) scale(1,1.0)" font-size="21" text-anchor="end">1,200</text>
<line x1="1384.8" y1="693.6" x2="1384.8" y2="765" stroke="#000" stroke-width="1.1"/>
<line x1="1384.8" y1="769" x2="1384.8" y2="837.7" stroke="#000" stroke-width="1.1"/>
<text transform="translate(1390.5,703.5) rotate(90) scale(1,1.04)" font-size="21.5">CD8<tspan font-size="14" dy="-10.5">+</tspan><tspan dy="10.5">​</tspan></text>
<text transform="translate(1390.5,781.6) rotate(90) scale(1,1.04)" font-size="21.5">CD4<tspan font-size="14" dy="-10.5">+</tspan><tspan dy="10.5">​</tspan></text>
<text transform="translate(942.7,911.5) scale(1,1.04)" font-size="21.5" text-anchor="start"  textLength="443.3" lengthAdjust="spacingAndGlyphs">Convalescent individuals + mRNA vaccination</text>
<rect x="960.50" y="943" width="3.2" height="35.00" fill="#cccccc"/>
<rect x="960.50" y="998" width="3.2" height="16.30" fill="#d2d2d2"/>
<rect x="1056.60" y="958" width="3.6" height="37.70" fill="#000000"/>
<rect x="1178.70" y="924.8" width="3.2" height="18.20" fill="#cfcfcf"/>
<rect x="1178.70" y="978.7" width="3.2" height="17.00" fill="#cfcfcf"/>
<rect x="1348.30" y="943" width="3.2" height="17.00" fill="#b0b0b0"/>
<rect x="1101.70" y="998" width="5.6" height="16.30" fill="#bdbdbd"/>
<rect x="1096.30" y="1014.3" width="6.2" height="18.20" fill="#dddddd"/>
<rect x="1002.70" y="1032.5" width="3.6" height="18.10" fill="#a5a5a5"/>
<rect x="1006.20" y="1032.5" width="3.4" height="18.10" fill="#c5c5c5"/>
<rect x="1215.50" y="998" width="3.6" height="16.30" fill="#858585"/>
<rect x="1219.00" y="998" width="3.4" height="16.30" fill="#c0c0c0"/>
<rect x="1248.80" y="998" width="6.4" height="16.30" fill="#cfcfcf"/>
<rect x="951.2" y="924.8" width="426.3" height="143.5" fill="none" stroke="#555" stroke-width="1.4"/>
<line x1="951.2" y1="998" x2="1377.5" y2="998" stroke="#555" stroke-width="1.4"/>
<line x1="942.2" y1="933.7" x2="951.2" y2="933.7" stroke="#555" stroke-width="1.4"/>
<text transform="translate(934.7,940.5) scale(1,1.04)" font-size="21.5" text-anchor="end" >A*02:01</text>
<line x1="942.2" y1="951.9" x2="951.2" y2="951.9" stroke="#555" stroke-width="1.4"/>
<text transform="translate(934.7,958.7) scale(1,1.04)" font-size="21.5" text-anchor="end" >A*23:01</text>
<line x1="942.2" y1="970" x2="951.2" y2="970" stroke="#555" stroke-width="1.4"/>
<text transform="translate(934.7,976.8) scale(1,1.04)" font-size="21.5" text-anchor="end" >B*07:02</text>
<line x1="942.2" y1="988.2" x2="951.2" y2="988.2" stroke="#555" stroke-width="1.4"/>
<text transform="translate(934.7,995.0) scale(1,1.04)" font-size="21.5" text-anchor="end" >B*35:01</text>
<line x1="942.2" y1="1005.8" x2="951.2" y2="1005.8" stroke="#555" stroke-width="1.4"/>
<text transform="translate(934.7,1012.6) scale(1,1.04)" font-size="21.5" text-anchor="end" >DRB1*03:01</text>
<line x1="942.2" y1="1024" x2="951.2" y2="1024" stroke="#555" stroke-width="1.4"/>
<text transform="translate(934.7,1030.8) scale(1,1.04)" font-size="21.5" text-anchor="end" >DRB1*11:01</text>
<line x1="942.2" y1="1042.1" x2="951.2" y2="1042.1" stroke="#555" stroke-width="1.4"/>
<text transform="translate(934.7,1048.9) scale(1,1.04)" font-size="21.5" text-anchor="end" >DQB1*02:01</text>
<line x1="942.2" y1="1060" x2="951.2" y2="1060" stroke="#555" stroke-width="1.4"/>
<text transform="translate(934.7,1066.8) scale(1,1.04)" font-size="21.5" text-anchor="end" >DQB1*03:01</text>
<text transform="translate(966.7,1089.3) rotate(-45) scale(1,1.0)" font-size="21" text-anchor="end">1</text>
<text transform="translate(1000.2,1089.3) rotate(-45) scale(1,1.0)" font-size="21" text-anchor="end">100</text>
<text transform="translate(1034.0,1089.3) rotate(-45) scale(1,1.0)" font-size="21" text-anchor="end">200</text>
<text transform="translate(1067.8,1089.3) rotate(-45) scale(1,1.0)" font-size="21" text-anchor="end">300</text>
<text transform="translate(1101.6,1089.3) rotate(-45) scale(1,1.0)" font-size="21" text-anchor="end">400</text>
<text transform="translate(1135.4,1089.3) rotate(-45) scale(1,1.0)" font-size="21" text-anchor="end">500</text>
<text transform="translate(1169.2,1089.3) rotate(-45) scale(1,1.0)" font-size="21" text-anchor="end">600</text>
<text transform="translate(1203.0,1089.3) rotate(-45) scale(1,1.0)" font-size="21" text-anchor="end">700</text>
<text transform="translate(1236.8,1089.3) rotate(-45) scale(1,1.0)" font-size="21" text-anchor="end">800</text>
<text transform="translate(1270.6,1089.3) rotate(-45) scale(1,1.0)" font-size="21" text-anchor="end">900</text>
<text transform="translate(1304.4,1089.3) rotate(-45) scale(1,1.0)" font-size="21" text-anchor="end">1,000</text>
<text transform="translate(1338.2,1089.3) rotate(-45) scale(1,1.0)" font-size="21" text-anchor="end">1,100</text>
<text transform="translate(1372.0,1089.3) rotate(-45) scale(1,1.0)" font-size="21" text-anchor="end">1,200</text>
<line x1="1384.7" y1="925.5" x2="1384.7" y2="993.7" stroke="#000" stroke-width="1.1"/>
<line x1="1384.7" y1="1001" x2="1384.7" y2="1068.7" stroke="#000" stroke-width="1.1"/>
<text transform="translate(1390.5,944) rotate(90) scale(1,1.04)" font-size="21.5">CD8<tspan font-size="14" dy="-10.5">+</tspan><tspan dy="10.5">​</tspan></text>
<text transform="translate(1390.5,1018) rotate(90) scale(1,1.04)" font-size="21.5">CD4<tspan font-size="14" dy="-10.5">+</tspan><tspan dy="10.5">​</tspan></text>
<text transform="translate(1031.0,1154.2) scale(1,1.04)" font-size="21.5" text-anchor="start"  textLength="266.8" lengthAdjust="spacingAndGlyphs">Spike (amino acid position)</text>
<text transform="translate(636.5,738.0) scale(1,1.04)" font-size="21.5" text-anchor="start" >Percentage</text>
<text transform="translate(664.0,764.0) scale(1,1.04)" font-size="21.5" text-anchor="start" >IFN-γ<tspan font-size="14" dy="-10.5">+</tspan><tspan dy="10.5">​</tspan></text>
<text transform="translate(638.0,795.4) scale(1,1.04)" font-size="21.5" text-anchor="start" >WT</text>
<text transform="translate(694.0,795.4) scale(1,1.04)" font-size="21.5" text-anchor="start" >Mut</text>
<rect x="643.3" y="816.1" width="24" height="183.4" fill="url(#gWT)" stroke="#333" stroke-width="1.2"/>
<line x1="643.3" y1="962.8" x2="647.3" y2="962.8" stroke="#333" stroke-width="1.3"/>
<line x1="663.3" y1="962.8" x2="667.3" y2="962.8" stroke="#333" stroke-width="1.3"/>
<line x1="643.3" y1="926.1" x2="647.3" y2="926.1" stroke="#333" stroke-width="1.3"/>
<line x1="663.3" y1="926.1" x2="667.3" y2="926.1" stroke="#333" stroke-width="1.3"/>
<line x1="643.3" y1="889.5" x2="647.3" y2="889.5" stroke="#333" stroke-width="1.3"/>
<line x1="663.3" y1="889.5" x2="667.3" y2="889.5" stroke="#333" stroke-width="1.3"/>
<line x1="643.3" y1="852.8" x2="647.3" y2="852.8" stroke="#333" stroke-width="1.3"/>
<line x1="663.3" y1="852.8" x2="667.3" y2="852.8" stroke="#333" stroke-width="1.3"/>
<text transform="translate(672.4,968.6) scale(1,1.04)" font-size="16" text-anchor="start" >2</text>
<text transform="translate(672.4,931.9) scale(1,1.04)" font-size="16" text-anchor="start" >4</text>
<text transform="translate(672.4,895.3) scale(1,1.04)" font-size="16" text-anchor="start" >6</text>
<text transform="translate(672.4,858.6) scale(1,1.04)" font-size="16" text-anchor="start" >8</text>
<text transform="translate(672.4,821.9) scale(1,1.04)" font-size="16" text-anchor="start" >10</text>
<rect x="697.3" y="816.1" width="24" height="183.4" fill="url(#gMut)" stroke="#333" stroke-width="1.2"/>
<line x1="697.3" y1="962.8" x2="701.3" y2="962.8" stroke="#333" stroke-width="1.3"/>
<line x1="717.3" y1="962.8" x2="721.3" y2="962.8" stroke="#333" stroke-width="1.3"/>
<line x1="697.3" y1="926.1" x2="701.3" y2="926.1" stroke="#333" stroke-width="1.3"/>
<line x1="717.3" y1="926.1" x2="721.3" y2="926.1" stroke="#333" stroke-width="1.3"/>
<line x1="697.3" y1="889.5" x2="701.3" y2="889.5" stroke="#333" stroke-width="1.3"/>
<line x1="717.3" y1="889.5" x2="721.3" y2="889.5" stroke="#333" stroke-width="1.3"/>
<line x1="697.3" y1="852.8" x2="701.3" y2="852.8" stroke="#333" stroke-width="1.3"/>
<line x1="717.3" y1="852.8" x2="721.3" y2="852.8" stroke="#333" stroke-width="1.3"/>
<text transform="translate(726.0,968.6) scale(1,1.04)" font-size="16" text-anchor="start" >2</text>
<text transform="translate(726.0,931.9) scale(1,1.04)" font-size="16" text-anchor="start" >4</text>
<text transform="translate(726.0,895.3) scale(1,1.04)" font-size="16" text-anchor="start" >6</text>
<text transform="translate(726.0,858.6) scale(1,1.04)" font-size="16" text-anchor="start" >8</text>
<text transform="translate(726.0,821.9) scale(1,1.04)" font-size="16" text-anchor="start" >10</text>
<text transform="translate(1422.0,738.0) scale(1,1.04)" font-size="21.5" text-anchor="start" >Percentage</text>
<text transform="translate(1450.0,764.0) scale(1,1.04)" font-size="21.5" text-anchor="start" >IFN-γ<tspan font-size="14" dy="-10.5">+</tspan><tspan dy="10.5">​</tspan></text>
<text transform="translate(1428.0,795.4) scale(1,1.04)" font-size="21.5" text-anchor="start" >WT</text>
<text transform="translate(1484.4,795.4) scale(1,1.04)" font-size="21.5" text-anchor="start" >Mut</text>
<rect x="1437" y="816.1" width="24" height="183.4" fill="url(#gWT)" stroke="#333" stroke-width="1.2"/>
<line x1="1437" y1="962.8" x2="1441" y2="962.8" stroke="#333" stroke-width="1.3"/>
<line x1="1457" y1="962.8" x2="1461" y2="962.8" stroke="#333" stroke-width="1.3"/>
<line x1="1437" y1="926.1" x2="1441" y2="926.1" stroke="#333" stroke-width="1.3"/>
<line x1="1457" y1="926.1" x2="1461" y2="926.1" stroke="#333" stroke-width="1.3"/>
<line x1="1437" y1="889.5" x2="1441" y2="889.5" stroke="#333" stroke-width="1.3"/>
<line x1="1457" y1="889.5" x2="1461" y2="889.5" stroke="#333" stroke-width="1.3"/>
<line x1="1437" y1="852.8" x2="1441" y2="852.8" stroke="#333" stroke-width="1.3"/>
<line x1="1457" y1="852.8" x2="1461" y2="852.8" stroke="#333" stroke-width="1.3"/>
<text transform="translate(1466.5,968.6) scale(1,1.04)" font-size="16" text-anchor="start" >2</text>
<text transform="translate(1466.5,931.9) scale(1,1.04)" font-size="16" text-anchor="start" >4</text>
<text transform="translate(1466.5,895.3) scale(1,1.04)" font-size="16" text-anchor="start" >6</text>
<text transform="translate(1466.5,858.6) scale(1,1.04)" font-size="16" text-anchor="start" >8</text>
<text transform="translate(1466.5,821.9) scale(1,1.04)" font-size="16" text-anchor="start" >10</text>
<rect x="1490.7" y="816.1" width="24" height="183.4" fill="url(#gMut)" stroke="#333" stroke-width="1.2"/>
<line x1="1490.7" y1="962.8" x2="1494.7" y2="962.8" stroke="#333" stroke-width="1.3"/>
<line x1="1510.7" y1="962.8" x2="1514.7" y2="962.8" stroke="#333" stroke-width="1.3"/>
<line x1="1490.7" y1="926.1" x2="1494.7" y2="926.1" stroke="#333" stroke-width="1.3"/>
<line x1="1510.7" y1="926.1" x2="1514.7" y2="926.1" stroke="#333" stroke-width="1.3"/>
<line x1="1490.7" y1="889.5" x2="1494.7" y2="889.5" stroke="#333" stroke-width="1.3"/>
<line x1="1510.7" y1="889.5" x2="1514.7" y2="889.5" stroke="#333" stroke-width="1.3"/>
<line x1="1490.7" y1="852.8" x2="1494.7" y2="852.8" stroke="#333" stroke-width="1.3"/>
<line x1="1510.7" y1="852.8" x2="1514.7" y2="852.8" stroke="#333" stroke-width="1.3"/>
<text transform="translate(1520.0,968.6) scale(1,1.04)" font-size="16" text-anchor="start" >2</text>
<text transform="translate(1520.0,931.9) scale(1,1.04)" font-size="16" text-anchor="start" >4</text>
<text transform="translate(1520.0,895.3) scale(1,1.04)" font-size="16" text-anchor="start" >6</text>
<text transform="translate(1520.0,858.6) scale(1,1.04)" font-size="16" text-anchor="start" >8</text>
<text transform="translate(1520.0,821.9) scale(1,1.04)" font-size="16" text-anchor="start" >10</text>
</svg></body></html>
